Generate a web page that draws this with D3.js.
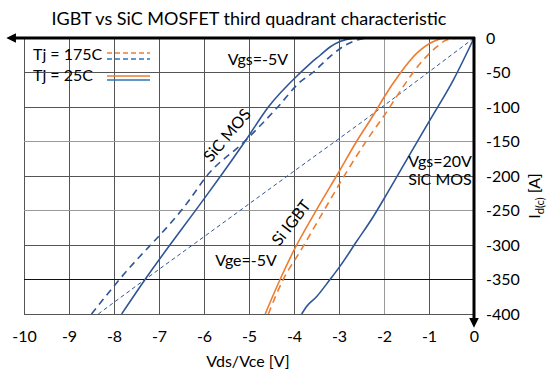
<!DOCTYPE html>
<html>
<head>
<meta charset="utf-8">
<script src="https://cdn.jsdelivr.net/npm/d3@7"></script>
<style>
  body { margin: 0; background: #fff; }
  svg text { font-family: Lato, "Open Sans", sans-serif; fill: #000; }
</style>
</head>
<body>
<svg id="chart" width="560" height="385"></svg>
<script>
/***********************************************************************/
// Data - [Vds, Id]

var xTicks = [-10, -9, -8, -7, -6, -5, -4, -3, -2, -1, 0];
var yTicks = [0, -50, -100, -150, -200, -250, -300, -350, -400];

// SiC MOSFET, Vgs = -5V (body diode)
var sicNeg25 = [[-7.83,-400],[-7.31,-350],[-6.02,-235],[-5.63,-200],[-5.09,-150],[-4.57,-100],[-3.87,-51],[-3.64,-37],[-3.42,-25],[-3.2,-13],[-2.98,-5],[-2.69,-0.5],[-2.36,0]];
var sicNeg175 = [[-8.5,-400],[-7.88,-350],[-6.35,-237],[-5.94,-200],[-5.1,-150],[-4.36,-100],[-3.87,-64],[-3.58,-50],[-3.2,-27],[-2.85,-10],[-2.55,-2],[-2.38,0]];

// SiC MOSFET, Vgs = 20V
var sicPos25 = [[-3.83,-400],[-3.72,-389],[-3.5,-375],[-3.2,-350],[-2.98,-331],[-2.61,-295],[-2.24,-259],[-2.0,-233],[-1.5,-177],[-0.98,-119],[-0.46,-61],[0,0]];
var sicPos175 = [[-8.35,-400],[-7.31,-350],[-6,-288],[-4,-193],[-2.31,-113],[-0.98,-48],[0,0]];

// Si IGBT, Vge = -5V (diode)
var igbt25 = [[-4.64,-400],[-4.31,-350],[-4.02,-310],[-3.5,-249],[-3.02,-196],[-2.61,-150],[-2.2,-108],[-2.02,-88],[-1.64,-51],[-1.27,-22],[-0.9,-5],[-0.61,0],[-0.45,0]];
var igbt175 = [[-4.57,-400],[-4.24,-350],[-3.87,-310],[-3.2,-235],[-2.83,-194],[-2.38,-148],[-1.94,-107],[-1.72,-85],[-1.42,-56],[-1.13,-32],[-0.83,-13],[-0.61,-3],[-0.3,0],[-0.1,0]];

/***********************************************************************/
// Setup

var orange = '#ed7d31', blue = '#2f5597';

var svg = d3.select('#chart');
var xScale = d3.scaleLinear().domain([-10, 0]).range([24, 474]);
var yScale = d3.scaleLinear().domain([-400, 0]).range([314, 38]);

// grid
svg.append('g').selectAll('line').data(xTicks.slice(0, -1)).join('line')
  .attr('x1', d => xScale(d)).attr('x2', d => xScale(d))
  .attr('y1', yScale(0)).attr('y2', yScale(-400))
  .attr('stroke', d => d === -2 ? '#9a9a9a' : '#555').attr('stroke-width', 1)
  .attr('shape-rendering', 'crispEdges');
svg.append('g').selectAll('line').data(yTicks.slice(1)).join('line')
  .attr('x1', xScale(-10)).attr('x2', xScale(0))
  .attr('y1', d => yScale(d)).attr('y2', d => yScale(d))
  .attr('stroke', d => d === -350 ? '#111' : (d === -250 || d === -150) ? '#9a9a9a' : '#555').attr('stroke-width', 1)
  .attr('shape-rendering', 'crispEdges');

/***********************************************************************/
// Curves

var line = d3.line().x(d => xScale(d[0])).y(d => yScale(d[1])).curve(d3.curveMonotoneX);

var series = [
  { data: sicPos175, color: blue,   width: 1,   dash: '4,3' },
  { data: sicNeg175, color: blue,   width: 1.6, dash: '7,5' },
  { data: sicNeg25,  color: blue,   width: 1.6, dash: null  },
  { data: sicPos25,  color: blue,   width: 1.6, dash: null  },
  { data: igbt175,   color: orange, width: 1.6, dash: '7,5' },
  { data: igbt25,    color: orange, width: 1.6, dash: null  },
];

svg.append('g').selectAll('path').data(series).join('path')
  .attr('d', d => line(d.data))
  .attr('fill', 'none')
  .attr('stroke', d => d.color)
  .attr('stroke-width', d => d.width)
  .attr('stroke-dasharray', d => d.dash);

/***********************************************************************/
// Axes

var xAxis = svg.append('g').attr('transform', 'translate(0,' + yScale(-400) + ')')
  .call(d3.axisBottom(xScale).tickValues(xTicks).tickSize(0).tickPadding(17).tickFormat(d => String(d)));
var yAxis = svg.append('g').attr('transform', 'translate(' + xScale(0) + ',0)')
  .call(d3.axisRight(yScale).tickValues(yTicks).tickSize(0).tickPadding(12).tickFormat(d => String(d)));
[xAxis, yAxis].forEach(a => {
  a.select('.domain').remove();
  a.selectAll('text').style('font-family', 'Lato').style('font-size', '16px').attr('fill', '#000');
});

// bold axis lines with arrows
svg.append('defs').append('marker')
  .attr('id', 'arrow').attr('viewBox', '0 0 10 10').attr('refX', 2).attr('refY', 5)
  .attr('markerWidth', 3.2).attr('markerHeight', 3.2).attr('orient', 'auto')
  .append('path').attr('d', 'M0,0 L10,5 L0,10 z').attr('fill', '#000');

svg.append('line')
  .attr('x1', xScale(0) + 1).attr('x2', 14).attr('y1', yScale(0)).attr('y2', yScale(0))
  .attr('stroke', '#000').attr('stroke-width', 3).attr('marker-end', 'url(#arrow)');
svg.append('line')
  .attr('x1', xScale(0)).attr('x2', xScale(0)).attr('y1', yScale(0) - 1).attr('y2', 320)
  .attr('stroke', '#000').attr('stroke-width', 3).attr('marker-end', 'url(#arrow)');

/***********************************************************************/
// Texts

svg.append('text').attr('x', 249).attr('y', 25).attr('text-anchor', 'middle')
  .style('font-size', '18px').text('IGBT vs SiC MOSFET third quadrant characteristic');

svg.append('text').attr('x', 248).attr('y', 367).attr('text-anchor', 'middle')
  .style('font-size', '16px').text('Vds/Vce [V]');

var yTitle = svg.append('text').attr('transform', 'translate(540,' + 196 + ') rotate(-90)')
  .attr('text-anchor', 'middle').style('font-size', '16px');
yTitle.append('tspan').text('I');
yTitle.append('tspan').attr('dy', 4).style('font-size', '11px').text('d(c)');
yTitle.append('tspan').attr('dy', -4).text(' [A]');

var labels = [
  { text: 'Vgs=-5V', x: -5.47, y: -39,  rot: 0 },
  { text: 'Vge=-5V', x: -5.75, y: -331, rot: 0 },
  { text: 'Vgs=20V', x: -1.46, y: -187, rot: 0 },
  { text: 'SiC MOS', x: -1.46, y: -213, rot: 0 },
];
svg.append('g').selectAll('text').data(labels).join('text')
  .attr('x', d => xScale(d.x)).attr('y', d => yScale(d.y))
  .style('font-size', '16px').text(d => d.text);

var rotLabels = [
  { text: 'SiC MOS', x: -5.5,  y: -140, rot: -50 },
  { text: 'Si IGBT', x: -4.08, y: -267, rot: -52 },
];
svg.append('g').selectAll('text').data(rotLabels).join('text')
  .attr('transform', d => 'translate(' + xScale(d.x) + ',' + yScale(d.y) + ') rotate(' + d.rot + ')')
  .attr('text-anchor', 'middle').attr('dominant-baseline', 'central')
  .style('font-size', '16px').text(d => d.text);

/***********************************************************************/
// Legend

var legend = svg.append('g');
legend.append('text').attr('x', 33).attr('y', 60).style('font-size', '16px').text('Tj = 175C');
legend.append('text').attr('x', 33).attr('y', 81).style('font-size', '16px').text('Tj = 25C');
var legendLines = [
  { y: 53, color: orange, dash: '5,3' },
  { y: 59, color: '#2e75b6', dash: '5,3' },
  { y: 76, color: orange, dash: null },
  { y: 80, color: '#2e75b6', dash: null },
];
legend.selectAll('line').data(legendLines).join('line')
  .attr('x1', 107).attr('x2', 150).attr('y1', d => d.y).attr('y2', d => d.y)
  .attr('stroke', d => d.color).attr('stroke-width', 1.3).attr('stroke-dasharray', d => d.dash);
</script>
</body>
</html>
